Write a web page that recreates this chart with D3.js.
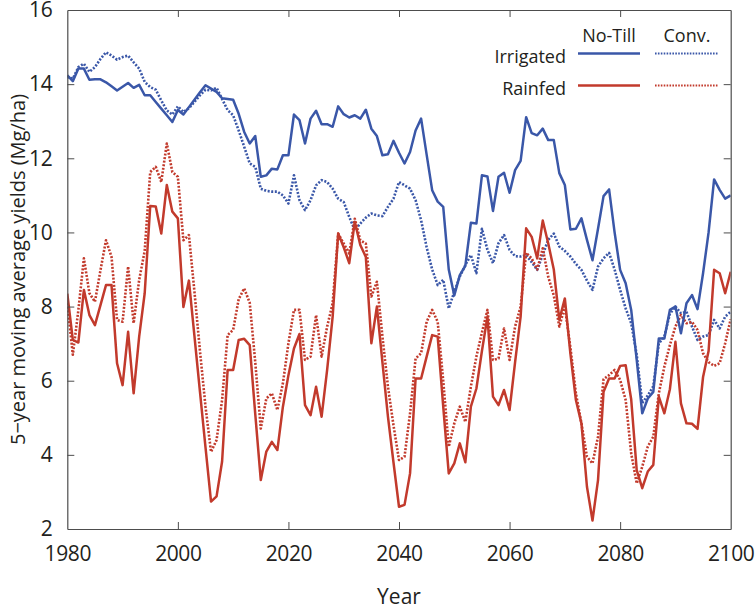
<!DOCTYPE html>
<html>
<head>
<meta charset="utf-8">
<script src="https://cdnjs.cloudflare.com/ajax/libs/d3/7.8.5/d3.min.js"></script>
<style>
  html, body { margin: 0; padding: 0; background: #fff; }
  svg { display: block; }
  text { font-family: "Open Sans", "Liberation Sans", sans-serif; fill: #231f20; }
</style>
</head>
<body>
<svg id="chart" width="755" height="611"></svg>
<script>
// ---- data ----
const years = d3.range(1980, 2101);
const xTicks = [1980, 2000, 2020, 2040, 2060, 2080, 2100];
const yTicks = [2, 4, 6, 8, 10, 12, 14, 16];
const seriesNames = ["Irrigated No-Till", "Irrigated Conv.", "Rainfed No-Till", "Rainfed Conv."];
const legendRows = ["Irrigated", "Rainfed"];
const legendCols = ["No-Till", "Conv."];

const irrigatedNoTill = [
  14.24, 14.08, 14.42, 14.42, 14.12, 14.13, 14.13, 14.05, 13.94, 13.83,
  13.93, 14.03, 13.90, 13.98, 13.70, 13.70, 13.52, 13.34, 13.16, 12.98,
  13.30, 13.18, 13.38, 13.58, 13.78, 13.97, 13.88, 13.79, 13.62, 13.60,
  13.58, 13.20, 12.71, 12.40, 12.60, 11.50, 11.54, 11.72, 11.70, 12.08,
  12.08, 13.18, 13.03, 12.40, 13.07, 13.28, 12.92, 12.92, 12.85, 13.40,
  13.19, 13.10, 13.16, 13.07, 13.31, 12.80, 12.60, 12.08, 12.11, 12.47,
  12.15, 11.86, 12.17, 12.75, 13.07, 12.10, 11.14, 10.83, 10.69, 9.00,
  8.30, 8.85, 9.10, 10.26, 10.24, 11.54, 11.51, 10.58, 11.50, 11.61,
  11.07, 11.68, 11.93, 13.11, 12.68, 12.62, 12.80, 12.49, 12.49, 11.60,
  11.28, 10.08, 10.10, 10.38, 9.80, 9.25, 10.10, 10.98, 11.16, 10.00,
  8.99, 8.63, 7.91, 6.56, 5.12, 5.52, 5.70, 7.14, 7.14, 7.91,
  8.00, 7.28, 8.09, 8.31, 7.93, 8.90, 10.00, 11.43, 11.15, 10.91,
  11.00
];
const irrigatedConv = [
  14.19, 14.15, 14.46, 14.55, 14.33, 14.46, 14.68, 14.86, 14.77, 14.66,
  14.73, 14.77, 14.59, 14.42, 14.06, 13.92, 13.85, 13.56, 13.29, 13.18,
  13.40, 13.25, 13.35, 13.52, 13.70, 13.85, 13.83, 13.90, 13.60, 13.30,
  13.16, 12.75, 12.31, 11.86, 11.77, 11.18, 11.12, 11.10, 11.10, 11.00,
  10.78, 11.54, 10.87, 10.60, 10.87, 11.27, 11.41, 11.36, 11.18, 10.91,
  10.82, 10.42, 10.06, 10.24, 10.40, 10.51, 10.46, 10.44, 10.69, 10.91,
  11.36, 11.27, 11.18, 10.87, 10.33, 9.60, 9.00, 8.58, 8.72, 7.95,
  8.40, 8.81, 9.12, 9.39, 8.90, 10.10, 9.53, 9.17, 9.71, 9.93,
  9.53, 9.36, 9.35, 9.39, 9.20, 8.99, 9.40, 9.80, 9.97, 9.62,
  9.50, 9.35, 9.15, 8.99, 8.70, 8.45, 9.08, 9.30, 9.45, 9.00,
  8.45, 7.95, 7.55, 6.70, 5.40, 5.60, 5.85, 7.00, 7.20, 7.80,
  8.00, 7.82, 7.86, 7.46, 7.10, 7.19, 7.23, 7.64, 7.41, 7.73,
  7.86
];
const rainfedNoTill = [
  8.35, 7.10, 7.03, 8.45, 7.77, 7.50, 8.04, 8.58, 8.58, 6.47,
  5.88, 7.32, 5.66, 7.19, 8.36, 10.71, 10.70, 9.97, 11.28, 10.56,
  10.38, 7.99, 8.70, 7.20, 5.70, 4.20, 2.74, 2.88, 3.82, 6.29,
  6.29, 7.10, 7.13, 6.96, 5.10, 3.32, 4.09, 4.35, 4.13, 5.30,
  6.15, 6.87, 7.26, 5.34, 5.07, 5.84, 5.03, 6.29, 7.73, 9.97,
  9.60, 9.17, 10.29, 9.66, 9.34, 7.01, 8.00, 6.50, 5.03, 3.80,
  2.60, 2.65, 3.50, 6.06, 6.06, 6.65, 7.23, 7.19, 5.30, 3.50,
  3.77, 4.31, 3.80, 5.30, 5.79, 6.80, 7.73, 5.57, 5.34, 5.75,
  5.21, 6.50, 7.73, 10.11, 9.88, 9.30, 10.32, 9.70, 9.00, 7.64,
  8.22, 6.74, 5.48, 4.85, 3.14, 2.23, 3.32, 5.70, 6.06, 6.06,
  6.40, 6.42, 5.50, 3.59, 3.10, 3.55, 3.73, 5.57, 5.12, 5.77,
  7.05, 5.39, 4.85, 4.84, 4.70, 6.10, 6.80, 8.99, 8.90, 8.36,
  8.94
];
const rainfedConv = [
  8.09, 6.70, 7.90, 9.30, 8.36, 8.13, 8.98, 9.79, 9.34, 7.64,
  7.59, 9.08, 7.55, 8.72, 9.50, 11.63, 11.77, 11.36, 12.40, 11.63,
  11.50, 9.79, 9.93, 8.40, 6.80, 5.30, 4.08, 4.40, 5.48, 7.23,
  7.37, 8.20, 8.49, 8.10, 6.50, 4.71, 5.52, 5.66, 5.21, 5.93,
  7.01, 7.91, 7.91, 6.56, 6.65, 7.77, 6.65, 7.46, 8.09, 9.97,
  9.70, 9.43, 10.37, 9.79, 9.70, 8.27, 8.67, 7.20, 5.84, 4.80,
  3.86, 3.95, 5.12, 6.60, 6.74, 7.59, 7.91, 7.59, 6.00, 4.22,
  4.85, 5.30, 4.89, 5.84, 6.65, 7.30, 7.91, 6.56, 6.60, 7.41,
  6.56, 7.46, 8.00, 9.45, 9.30, 9.00, 9.57, 8.80, 8.30, 7.46,
  8.00, 6.90, 5.66, 4.85, 3.95, 3.77, 4.49, 6.04, 6.15, 6.29,
  6.02, 5.48, 4.04, 3.23, 3.68, 4.22, 4.49, 5.66, 6.38, 6.96,
  7.46, 7.77, 7.55, 7.59, 7.37, 6.74, 6.50, 6.40, 6.47, 7.01,
  7.66
];

// ---- layout ----
const W = 755, H = 611;
const margin = { left: 67.3, right: 24.3, top: 10, bottom: 82 };
const BLUE = "#3a57a8", RED = "#c23a2c", AXIS = "#4d4d4d";

const svg = d3.select("#chart");
const x = d3.scaleLinear().domain([1980, 2100]).range([margin.left, W - margin.right]);
const y = d3.scaleLinear().domain([2, 16]).range([H - margin.bottom, margin.top]);

const series = [
  { name: seriesNames[0], values: irrigatedNoTill, color: BLUE, dotted: false },
  { name: seriesNames[1], values: irrigatedConv, color: BLUE, dotted: true },
  { name: seriesNames[2], values: rainfedNoTill, color: RED, dotted: false },
  { name: seriesNames[3], values: rainfedConv, color: RED, dotted: true }
];

svg.append("defs").append("clipPath").attr("id", "plotclip")
  .append("rect")
  .attr("x", x(1980)).attr("y", y(16))
  .attr("width", x(2100) - x(1980)).attr("height", y(2) - y(16));

// lines
const line = d3.line().x((d, i) => x(years[i])).y(d => y(d));
const g = svg.append("g").attr("clip-path", "url(#plotclip)");
[series[1], series[3], series[0], series[2]].forEach(s => {
  g.append("path")
    .datum(s.values)
    .attr("fill", "none")
    .attr("stroke", s.color)
    .attr("stroke-width", s.dotted ? 2.6 : 2.5)
    .attr("stroke-linejoin", "round")
    .attr("stroke-dasharray", s.dotted ? "2,1.6" : null)
    .attr("d", line);
});

// axes
const tickLen = 7;
const axB = svg.append("g").attr("transform", `translate(0,${y(2)})`)
  .call(d3.axisBottom(x).tickValues(xTicks).tickFormat(d3.format("d")).tickSizeInner(-tickLen).tickSizeOuter(0).tickPadding(tickLen + 10));
const axT = svg.append("g").attr("transform", `translate(0,${y(16)})`)
  .call(d3.axisTop(x).tickValues(xTicks).tickFormat("").tickSizeInner(-tickLen).tickSizeOuter(0));
const axL = svg.append("g").attr("transform", `translate(${x(1980)},0)`)
  .call(d3.axisLeft(y).tickValues(yTicks).tickFormat(d3.format("d")).tickSizeInner(-tickLen).tickSizeOuter(0).tickPadding(tickLen + 8));
const axR = svg.append("g").attr("transform", `translate(${x(2100)},0)`)
  .call(d3.axisRight(y).tickValues(yTicks).tickFormat("").tickSizeInner(-tickLen).tickSizeOuter(0));

[axB, axT, axL, axR].forEach(a => {
  a.select(".domain").attr("stroke", AXIS).attr("stroke-width", 1.2);
  a.selectAll(".tick line").attr("stroke", AXIS).attr("stroke-width", 1);
  a.selectAll(".tick text").attr("font-size", 21).attr("fill", "#231f20")
    .attr("letter-spacing", "-0.4px")
    .style("font-family", '"Open Sans", sans-serif');
});
axB.selectAll(".tick").filter(d => d === 1980 || d === 2100).select("line").remove();
axT.selectAll(".tick").filter(d => d === 1980 || d === 2100).select("line").remove();
axL.selectAll(".tick").filter(d => d === 2 || d === 16).select("line").remove();
axR.selectAll(".tick").filter(d => d === 2 || d === 16).select("line").remove();

// axis titles
svg.append("text")
  .attr("x", (x(1980) + x(2100)) / 2).attr("y", 604)
  .attr("text-anchor", "middle").attr("font-size", 21)
  .text("Year");
svg.append("text")
  .attr("transform", `translate(25,${(y(2) + y(16)) / 2}) rotate(-90)`)
  .attr("text-anchor", "middle").attr("font-size", 20)
  .text("5\u2212year moving average yields (Mg/ha)");

// legend
const legend = svg.append("g");
const colX = [609, 687];
const rowY = [53.5, 85.5];
legendCols.forEach((c, i) => {
  legend.append("text").attr("x", colX[i]).attr("y", 42)
    .attr("text-anchor", "middle").attr("font-size", 18).text(c);
});
legendRows.forEach((r, j) => {
  legend.append("text").attr("x", 566).attr("y", rowY[j] + 9)
    .attr("text-anchor", "end").attr("font-size", 18).text(r);
});
const legendSeries = [[series[0], series[1]], [series[2], series[3]]];
legendSeries.forEach((pair, j) => {
  pair.forEach((s, i) => {
    const x0 = i === 0 ? 578 : 655;
    const x1 = i === 0 ? 640 : 718;
    legend.append("line")
      .attr("x1", x0).attr("x2", x1).attr("y1", rowY[j]).attr("y2", rowY[j])
      .attr("stroke", s.color)
      .attr("stroke-width", s.dotted ? 2.2 : 2.6)
      .attr("stroke-dasharray", s.dotted ? "1.6,1.3" : null);
  });
});
</script>
</body>
</html>
